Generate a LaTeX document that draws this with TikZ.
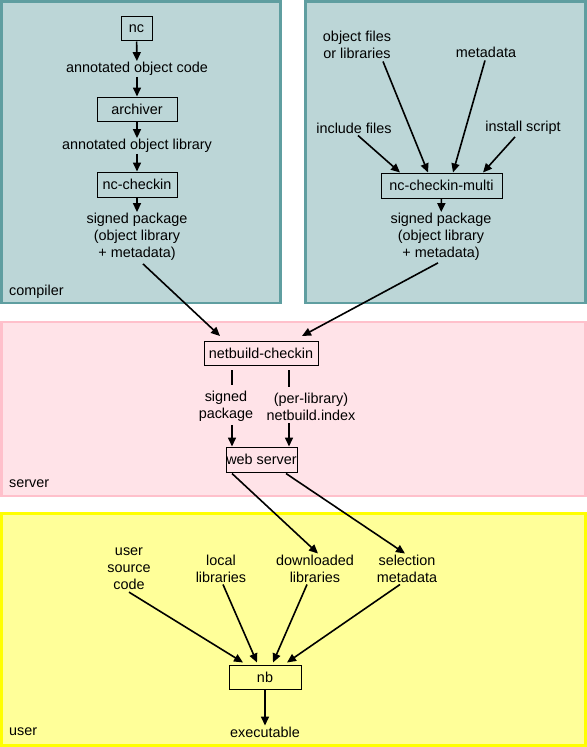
\documentclass[tikz,border=0pt]{standalone}
\usepackage{fontspec}
\setmainfont{Liberation Sans}
\usetikzlibrary{arrows.meta,calc}
\definecolor{tealb}{RGB}{95,158,160}
\definecolor{pinkb}{RGB}{255,192,203}
\definecolor{yellowb}{RGB}{255,255,0}
\tikzset{
  region/.style={line width=2.5bp},
  proc/.style={draw=black,line width=1bp,inner sep=0pt},
  lbl/.style={inner sep=1bp,align=center},
  arr/.style={line width=1.6bp,-{Triangle[length=9bp,width=8bp]}},
  seg/.style={line width=1.6bp},
}
\begin{document}
\begin{tikzpicture}[x=1bp,y=-1bp,font=\fontsize{14.4bp}{17bp}\selectfont]
\useasboundingbox (0,0) rectangle (587,747);
% regions
\draw[region,draw=tealb,fill=tealb!42!white] (1.5,1.5) rectangle (280.5,303);
\draw[region,draw=tealb,fill=tealb!42!white] (305.5,1.5) rectangle (585.5,303);
\draw[region,draw=pinkb,fill=pinkb!45!white] (1.5,322) rectangle (585.5,496);
\draw[region,draw=yellowb,fill=yellowb!40!white] (1.5,513.5) rectangle (585.5,745.5);
\node[lbl,anchor=west] (lcomp) at (8,292) {compiler};
\node[lbl,anchor=west] (lserv) at (8,484) {server};
\node[lbl,anchor=west] (luser) at (8,732) {user};
% compiler column
\node[proc,minimum width=31bp,minimum height=24bp] (nc) at (136.5,29) {nc};
\node[lbl] (aoc) at (137,69) {annotated object code};
\node[proc,minimum width=80bp,minimum height=24bp] (arch) at (137,109) {archiver};
\node[lbl] (aol) at (137,146) {annotated object library};
\node[proc,minimum width=80bp,minimum height=25bp] (ncc) at (137,184.5) {nc-checkin};
\node[lbl] (sp1) at (137,237) {signed package\\(object library\\+ metadata)};
\draw[arr] (nc) -- (aoc);
\draw[arr] (aoc) -- (arch);
\draw[arr] (arch) -- (aol);
\draw[arr] (aol) -- (ncc);
\draw[arr] (ncc) -- (sp1);
% multi column
\node[lbl] (ofl) at (357,44.5) {object files\\or libraries};
\node[lbl] (md) at (486,52) {metadata};
\node[lbl] (inc) at (354,128) {include files};
\node[lbl] (inst) at (523,128) {install script};
\node[proc,minimum width=121bp,minimum height=25bp] (nccm) at (441.5,185.5) {nc-checkin-multi};
\node[lbl] (sp2) at (441,237) {signed package\\(object library\\+ metadata)};
\draw[arr] ($(ofl.south)+(26,2)$) -- ($(nccm.north)+(-13.5,0)$);
\draw[arr] ($(md.south)+(-1,2)$) -- ($(nccm.north)+(11.5,0)$);
\draw[arr] ($(inc.south)+(4,1)$) -- ($(nccm.north)+(-41.5,0)$);
\draw[arr] ($(inst.south)+(-8,1)$) -- ($(nccm.north)+(41.5,0)$);
\draw[arr] (nccm) -- (sp2);
% server
\node[proc,minimum width=114bp,minimum height=24bp] (nbc) at (261,353.5) {netbuild-checkin};
\node[lbl] (sp3) at (226,406.5) {signed\\package};
\node[lbl] (idx) at (311,406.5) {(per-library)\\netbuild.index};
\node[proc,minimum width=71bp,minimum height=25bp] (ws) at (261.5,459.5) {web server};
\coordinate (lx) at (232,0);
\coordinate (rx) at (289,0);
\draw[arr] ($(sp1.south)+(6,2)$) -- ($(nbc.north)+(-41,-5)$);
\draw[arr] ($(sp2.south)+(-3,1)$) -- ($(nbc.north)+(41,-5)$);
\draw[seg] ($(nbc.south -| lx)+(0,4)$) -- ($(sp3.north -| lx)+(0,-5)$);
\draw[arr] ($(sp3.south -| lx)+(0,2)$) -- (ws.north -| lx);
\draw[seg] ($(nbc.south -| rx)+(0,4)$) -- ($(idx.north -| rx)+(0,-5)$);
\draw[arr] ($(idx.south -| rx)+(0,2)$) -- (ws.north -| rx);
% user
\node[lbl] (usc) at (129,569) {user\\source\\code};
\node[lbl] (ll) at (221,568.5) {local\\libraries};
\node[lbl] (dl) at (315,568.5) {downloaded\\libraries};
\node[lbl] (sm) at (407,568.5) {selection\\metadata};
\node[proc,minimum width=72bp,minimum height=24bp] (nb) at (265,677) {nb};
\node[lbl] (exe) at (265,732) {executable};
\draw[arr] ($(ws.south)+(-29.5,1)$) -- ($(dl.north)+(3,0)$);
\draw[arr] ($(ws.south)+(24.5,1)$) -- ($(sm.north)+(-2,0)$);
\draw[arr] ($(usc.south)+(0,1)$) -- ($(nb.north)+(-22,-2)$);
\draw[arr] ($(ll.south)+(2,1)$) -- ($(nb.north)+(-8,-2)$);
\draw[arr] ($(dl.south)+(-8,1)$) -- ($(nb.north)+(8,-2)$);
\draw[arr] ($(sm.south)+(-7,1)$) -- ($(nb.north)+(22,-2)$);
\draw[arr] (nb) -- (exe);
\end{tikzpicture}
\end{document}
